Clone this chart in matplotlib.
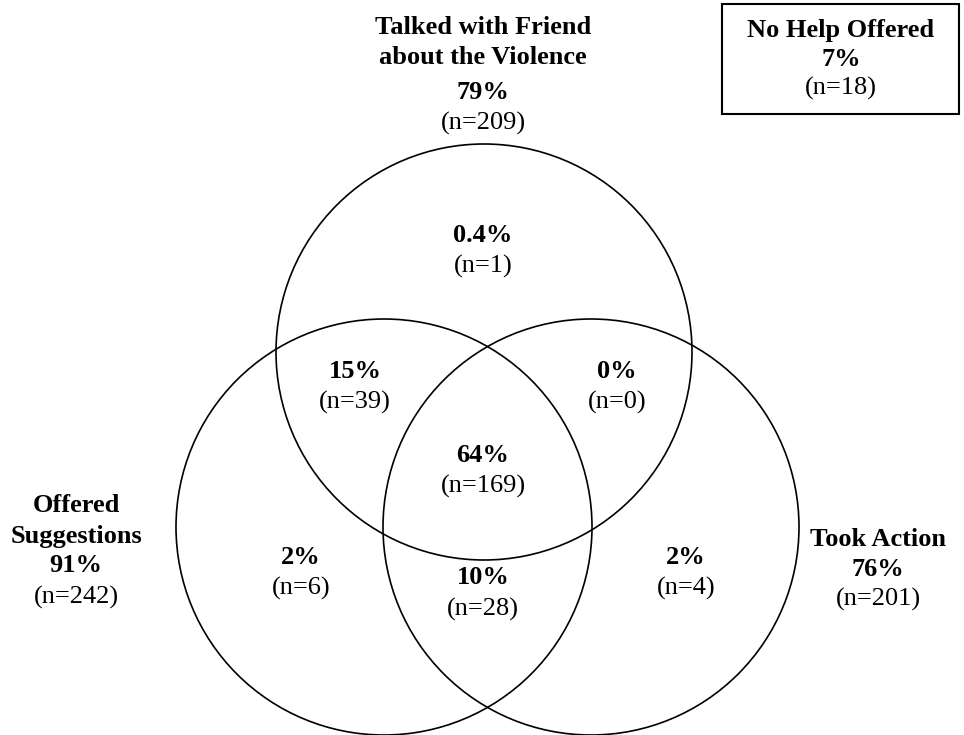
import matplotlib
matplotlib.use("Agg")
import matplotlib.pyplot as plt
from matplotlib.patches import Circle, Rectangle

# ---- data ----
set_names = [["Talked with Friend", "about the Violence"], ["Offered", "Suggestions"], ["Took Action"]]
set_pcts = ["79%", "91%", "76%"]
set_ns = [209, 242, 201]

region_keys = ["talk_only", "talk_sugg", "talk_action", "all", "sugg_only", "action_only", "sugg_action"]
region_pcts = ["0.4%", "15%", "0%", "64%", "2%", "2%", "10%"]
region_ns = [1, 39, 0, 169, 6, 4, 28]

none_name = "No Help Offered"
none_pct = "7%"
none_n = 18

# ---- layout (pixel coordinates, y downwards) ----
W, H = 964, 735
FONT = "Liberation Serif"
FS = 19

circles = [(484, 352), (384, 527), (591, 527)]
R = 208

region_pos = {
    "talk_only": (483, 235),
    "talk_sugg": (355, 371),
    "talk_action": (617, 371),
    "all": (483, 455),
    "sugg_only": (301, 557),
    "action_only": (686, 557),
    "sugg_action": (483, 578),
}

fig = plt.figure(figsize=(W / 100, H / 100), dpi=100)
ax = fig.add_axes([0, 0, 1, 1])
ax.set_xlim(0, W)
ax.set_ylim(H, 0)
ax.set_aspect("equal")
ax.axis("off")

for (cx, cy) in circles:
    ax.add_patch(Circle((cx, cy), R, fill=False, edgecolor="black", lw=1.2))


def txt(x, y, s, bold=False):
    ax.text(x, y, s, ha="center", va="center", fontsize=FS, family=FONT,
            fontweight="bold" if bold else "normal", color="black")


# region labels
for key, p, n in zip(region_keys, region_pcts, region_ns):
    x, y = region_pos[key]
    txt(x, y, p, bold=True)
    txt(x, y + 31, f"(n={n})")

# set labels
# top
txt(483, 27, set_names[0][0], bold=True)
txt(483, 57, set_names[0][1], bold=True)
txt(483, 92, set_pcts[0], bold=True)
txt(483, 123, f"(n={set_ns[0]})")
# left
txt(76, 506, set_names[1][0], bold=True)
txt(76, 536, set_names[1][1], bold=True)
txt(76, 566, set_pcts[1], bold=True)
txt(76, 597, f"(n={set_ns[1]})")
# right
txt(878, 540, set_names[2][0], bold=True)
txt(878, 569, set_pcts[2], bold=True)
txt(878, 599, f"(n={set_ns[2]})")

# no help box
ax.add_patch(Rectangle((722, 4), 237, 110, fill=False, edgecolor="black", lw=1.5))
txt(841, 30, none_name, bold=True)
txt(841, 59, none_pct, bold=True)
txt(841, 88, f"(n={none_n})")

fig.savefig("out.png", dpi=100)
